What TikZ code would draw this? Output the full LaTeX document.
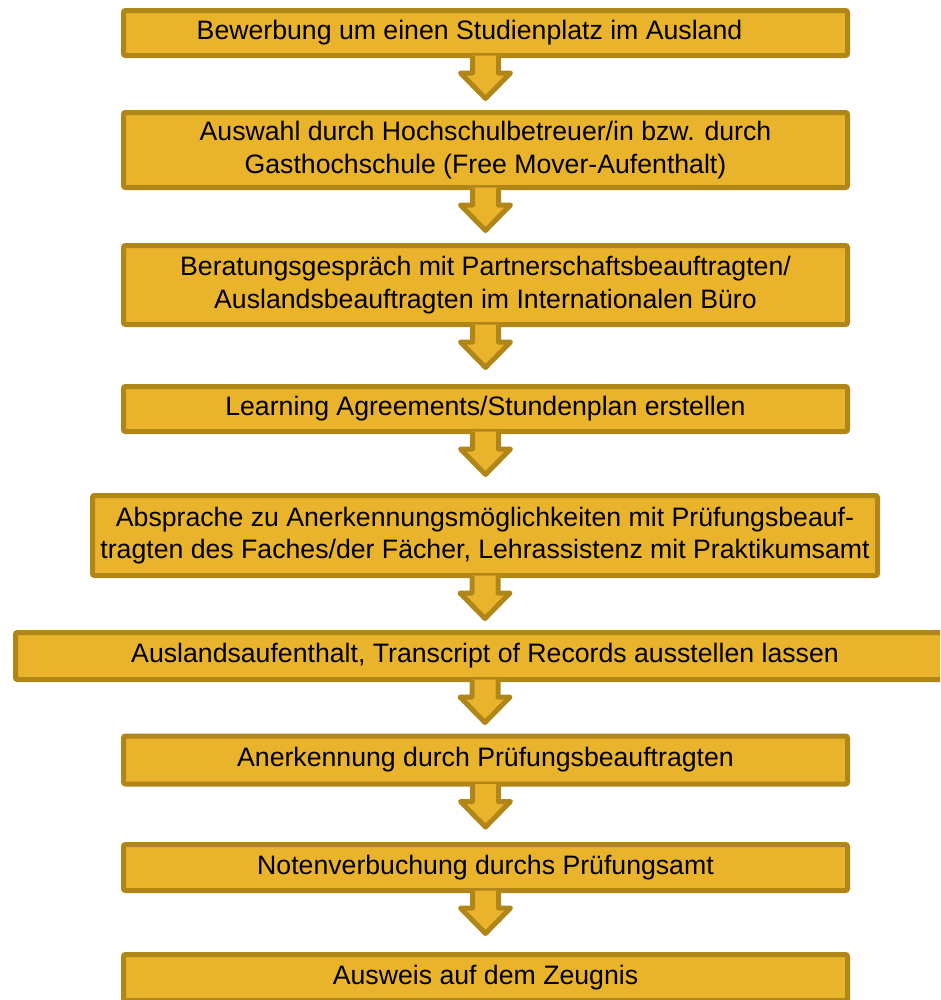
\documentclass[tikz,border=0pt]{standalone}
\usepackage{fontspec}
\setmainfont{Liberation Sans}
\definecolor{stepfill}{RGB}{233,179,43}
\definecolor{stepline}{RGB}{177,134,25}
\begin{document}
\begin{tikzpicture}[x=0.75pt,y=-0.75pt,
    stepbox/.style={draw=stepline,fill=stepfill,line width=3.75pt,rounded corners=1.5pt,
        minimum width=543pt,align=center,inner sep=0pt,
        font=\fontsize{20}{24.2}\selectfont},
    blockfill/.style={fill=stepfill},
    blockline/.style={draw=stepline,line width=3.75pt,line join=round}]
    \useasboundingbox (0,0) rectangle (940,1000);
    \clip (0,0) rectangle (940,1000);
    \node[stepbox,minimum height=33.75pt] (b1) at (485.5,33) {Bewerbung um einen Studienplatz im Ausland\hspace*{24pt}};
    \node[stepbox,minimum height=56.25pt] (b2) at (485.5,150) {Auswahl durch Hochschulbetreuer/in bzw. durch\\Gasthochschule (Free Mover-Aufenthalt)};
    \node[stepbox,minimum height=59.25pt] (b3) at (485.5,285) {Beratungsgespräch mit Partnerschaftsbeauftragten/\\Auslandsbeauftragten im Internationalen Büro};
    \node[stepbox,minimum height=33.75pt] (b4) at (485.5,409) {Learning Agreements/Stundenplan erstellen};
    \node[stepbox,minimum height=60pt,minimum width=588.75pt] (b5) at (485,535.5) {Absprache zu Anerkennungsmöglichkeiten mit Prüfungsbeauf-\\tragten des Faches/der Fächer, Lehrassistenz mit Praktikumsamt};
    \node[stepbox,minimum height=35.25pt,minimum width=704.25pt] (b6) at (485,656) {Auslandsaufenthalt, Transcript of Records ausstellen lassen};
    \node[stepbox,minimum height=36pt] (b7) at (485.5,760) {Anerkennung durch Prüfungsbeauftragten};
    \node[stepbox,minimum height=34.5pt] (b8) at (485.5,867.5) {Notenverbuchung durchs Prüfungsamt};
    \node[stepbox,minimum height=34.5pt] (b9) at (485.5,977.5) {Ausweis auf dem Zeugnis};
    \foreach \a/\b in {b1/b2,b2/b3,b3/b4,b4/b5,b5/b6,b6/b7,b7/b8,b8/b9}{
        \fill[blockfill] (\a.south) ++(-13,-2.5) -- ++(0,17.5) -- ++(-12,0) -- ++(25,25.5) -- ++(25,-25.5) -- ++(-12,0) -- ++(0,-17.5) -- cycle;
        \draw[blockline] (\a.south) ++(-13,-2.5) -- ++(0,17.5) -- ++(-12,0) -- ++(25,25.5) -- ++(25,-25.5) -- ++(-12,0) -- ++(0,-17.5);
    }
\end{tikzpicture}
\end{document}
